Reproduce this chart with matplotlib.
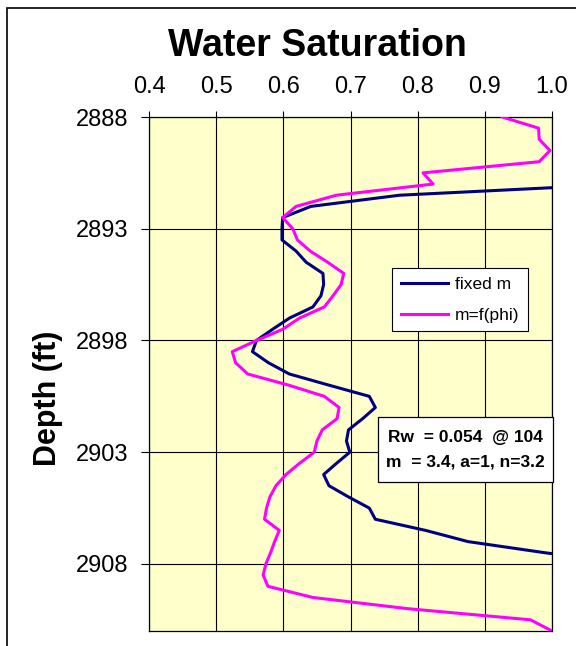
import matplotlib
matplotlib.use('Agg')
import matplotlib.pyplot as plt
from matplotlib.patches import Rectangle

# depth (ft) and water saturation
depth_phi = [2888.0, 2888.5, 2889.0, 2889.5, 2890.0, 2890.5, 2891.0, 2891.5, 2892.0, 2892.5,
             2893.0, 2893.5, 2894.0, 2894.5, 2895.0, 2895.5, 2896.0, 2896.5, 2897.0, 2897.5,
             2898.0, 2898.5, 2899.0, 2899.5, 2900.0, 2900.5, 2901.0, 2901.5, 2902.0, 2902.5,
             2903.0, 2903.5, 2904.0, 2904.5, 2905.0, 2905.5, 2906.0, 2906.5, 2907.0, 2907.5,
             2908.0, 2908.5, 2909.0, 2909.5, 2910.0, 2910.5, 2911.0]
sw_phi = [0.926, 0.980, 0.981, 0.997, 0.981, 0.808, 0.823, 0.679, 0.619, 0.599,
          0.614, 0.621, 0.640, 0.666, 0.690, 0.686, 0.674, 0.661, 0.624, 0.599,
          0.560, 0.524, 0.529, 0.547, 0.608, 0.661, 0.683, 0.680, 0.658, 0.650,
          0.646, 0.624, 0.604, 0.589, 0.580, 0.575, 0.572, 0.594, 0.587, 0.581,
          0.574, 0.570, 0.577, 0.644, 0.785, 0.968, 1.0]

depth_fixed = [2891.0, 2891.5, 2892.0, 2892.5, 2893.0, 2893.5, 2894.0, 2894.5, 2895.0, 2895.5,
               2896.0, 2896.5, 2897.0, 2897.5, 2898.0, 2898.5, 2899.0, 2899.5, 2900.0, 2900.5,
               2901.0, 2901.5, 2902.0, 2902.5, 2903.0, 2903.5, 2904.0, 2904.5, 2905.0, 2905.5,
               2906.0, 2906.5, 2907.0, 2907.5, 2908.0]
sw_fixed = [1.11, 0.773, 0.641, 0.599, 0.598, 0.598, 0.619, 0.634, 0.659, 0.660,
            0.656, 0.644, 0.609, 0.584, 0.560, 0.554, 0.578, 0.609, 0.668, 0.728,
            0.737, 0.718, 0.697, 0.694, 0.699, 0.679, 0.660, 0.668, 0.697, 0.728,
            0.737, 0.812, 0.875, 0.990, 1.12]

x_ticks = [0.4, 0.5, 0.6, 0.7, 0.8, 0.9, 1.0]
y_ticks = [2888, 2893, 2898, 2903, 2908]

plt.rcParams['font.family'] = 'Liberation Sans'

fig = plt.figure(figsize=(5.76, 6.46), dpi=100)
ax = fig.add_axes([149 / 576, 1 - 631 / 646, 403 / 576, 514 / 646])
ax.set_facecolor('#FFFFCC')

ax.plot(sw_fixed, depth_fixed, color='#000080', lw=2.2, label='fixed m', zorder=3)
ax.plot(sw_phi, depth_phi, color='#FF00FF', lw=2.2, label='m=f(phi)', zorder=3)

ax.set_xlim(0.4, 1.0)
ax.set_ylim(2911, 2888)
ax.xaxis.tick_top()
ax.set_xticks(x_ticks)
ax.set_xticklabels([f'{v:.1f}' for v in x_ticks])
ax.set_yticks(y_ticks)
ax.tick_params(axis='x', direction='out', length=4.5, width=0.8, labelsize=17, pad=9)
ax.tick_params(axis='y', direction='out', length=6, width=0.8, labelsize=17, pad=9)
ax.grid(True, color='black', lw=0.8)
ax.set_axisbelow(True)
for s in ax.spines.values():
    s.set_color('black')
    s.set_linewidth(0.9)

leg = ax.legend(loc='upper left', bbox_to_anchor=(0.603, 0.706), borderaxespad=0,
                fancybox=False, edgecolor='black', framealpha=1, fontsize=12.5,
                handlelength=2.7, labelspacing=0.9, borderpad=0.5, handletextpad=0.4)
leg.get_frame().set_linewidth(0.8)

# parameter box
ax.add_patch(Rectangle((0.568, 0.290), 0.4345, 0.126, transform=ax.transAxes,
                       facecolor='white', edgecolor='black', lw=0.9, clip_on=False, zorder=5))
ax.text(0.785, 0.368, 'Rw  = 0.054  @ 104', transform=ax.transAxes, ha='center',
        va='baseline', fontsize=12.5, fontweight='bold', zorder=6)
ax.text(0.785, 0.321, 'm  = 3.4, a=1, n=3.2', transform=ax.transAxes, ha='center',
        va='baseline', fontsize=12.5, fontweight='bold', zorder=6)

fig.text(317.5 / 576, 1 - 56 / 646, 'Water Saturation', fontsize=27, fontweight='bold',
         ha='center', va='baseline')
fig.text(48 / 576, 1 - 398 / 646, 'Depth (ft)', rotation=90, fontsize=22, fontweight='bold',
         ha='center', va='center')

# outer chart frame
fig.add_artist(Rectangle((7 / 576, -0.1), 1.2, 1 - 8 / 646 + 0.1, transform=fig.transFigure,
                         fill=False, edgecolor='black', lw=1.2))

fig.savefig('out.png', dpi=100)
